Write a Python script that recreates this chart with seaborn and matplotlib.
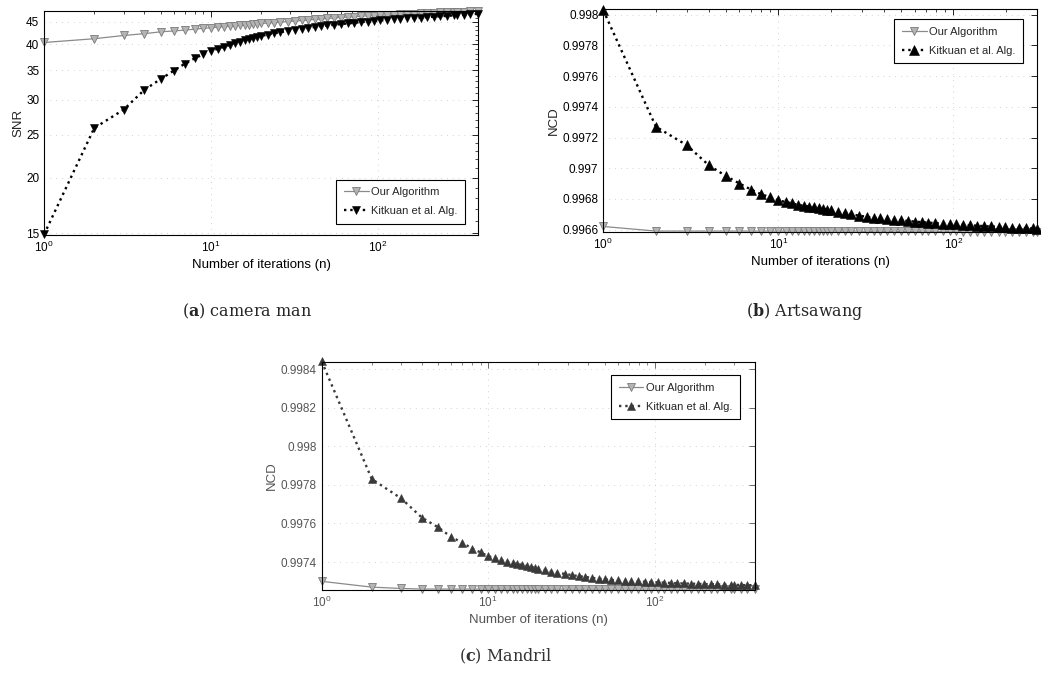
import numpy as np
import pandas as pd
import matplotlib
matplotlib.use("Agg")
import matplotlib.pyplot as plt
import seaborn as sns
from matplotlib.ticker import FixedLocator, FuncFormatter, NullFormatter, LogLocator

n_iter = [1, 2, 3, 4, 5, 6, 7, 8, 9, 10, 11, 12, 13, 14, 15, 16, 17, 18, 19, 20,
          22, 24, 26, 29, 32, 35, 38, 42, 46, 50, 55, 60, 66, 72, 79, 87, 95, 104,
          114, 125, 137, 150, 165, 181, 198, 217, 238, 261, 286, 300, 330, 360, 400]

# (a) camera man - SNR
snr_ours = [40.4, 41.2, 41.9, 42.3, 42.7, 42.9, 43.1, 43.3, 43.5, 43.6, 43.75, 43.9, 44.0,
            44.1, 44.2, 44.3, 44.35, 44.45, 44.5, 44.6, 44.7, 44.8, 44.9, 45.05, 45.15,
            45.3, 45.4, 45.55, 45.65, 45.8, 45.9, 46.0, 46.1, 46.2, 46.3, 46.4, 46.45,
            46.55, 46.6, 46.7, 46.8, 46.85, 46.95, 47.0, 47.1, 47.15, 47.25, 47.3, 47.35,
            47.4, 47.45, 47.5, 47.6]
snr_kit = [14.9, 25.9, 28.5, 31.6, 33.4, 34.9, 36.2, 37.2, 38.0, 38.7, 39.1, 39.5, 39.9,
           40.3, 40.6, 40.9, 41.15, 41.4, 41.6, 41.8, 42.1, 42.4, 42.6, 42.9, 43.15, 43.4,
           43.6, 43.8, 44.0, 44.15, 44.3, 44.45, 44.6, 44.75, 44.9, 45.05, 45.2, 45.3,
           45.45, 45.55, 45.7, 45.8, 45.9, 46.0, 46.1, 46.2, 46.3, 46.4, 46.5, 46.55,
           46.65, 46.75, 46.9]

# (b) Artsawang - NCD (first 50 iteration points, up to n=300)
ncd_b_ours = [0.99662, 0.99659, 0.99659, 0.99659, 0.99659, 0.99659, 0.99659, 0.99659,
              0.99659, 0.99659, 0.99659, 0.99659, 0.99659, 0.99659, 0.99659, 0.99659,
              0.99659, 0.99659, 0.99659, 0.99659, 0.99659, 0.99659, 0.99659, 0.99659,
              0.996588, 0.996588, 0.996588, 0.996588, 0.996588, 0.996588, 0.996588,
              0.996588, 0.996588, 0.996588, 0.996588, 0.996588, 0.996588, 0.996588,
              0.996586, 0.996586, 0.996586, 0.996586, 0.996586, 0.996586, 0.996586,
              0.996586, 0.996586, 0.996586, 0.996586, 0.996586]
ncd_b_kit = [0.99803, 0.99727, 0.99715, 0.99702, 0.99695, 0.99690, 0.99686, 0.99683,
             0.99681, 0.99679, 0.99678, 0.99677, 0.99676, 0.996755, 0.99675, 0.996745,
             0.99674, 0.996735, 0.99673, 0.996725, 0.996715, 0.996705, 0.9967, 0.99669,
             0.996683, 0.996677, 0.996672, 0.996667, 0.996663, 0.99666, 0.996656,
             0.996652, 0.996648, 0.996645, 0.996642, 0.996639, 0.996636, 0.996633,
             0.99663, 0.996627, 0.996625, 0.996622, 0.99662, 0.996618, 0.996615,
             0.996613, 0.996611, 0.996609, 0.996607, 0.996606]

# (c) Mandril - NCD
ncd_c_ours = [0.99730, 0.99727, 0.997263, 0.99726, 0.99726, 0.99726, 0.99726, 0.99726,
              0.99726, 0.99726, 0.99726, 0.99726, 0.99726, 0.99726, 0.99726, 0.99726,
              0.99726, 0.99726, 0.99726, 0.99726, 0.99726, 0.99726, 0.99726, 0.99726,
              0.99726, 0.99726, 0.99726, 0.99726, 0.99726, 0.99726, 0.99726, 0.99726,
              0.99726, 0.99726, 0.99726, 0.99726, 0.99726, 0.99726, 0.99726, 0.99726,
              0.99726, 0.99726, 0.99726, 0.99726, 0.99726, 0.99726, 0.99726, 0.99726,
              0.99726, 0.99726, 0.99726, 0.99726, 0.99726]
ncd_c_kit = [0.99844, 0.99783, 0.99773, 0.99763, 0.99758, 0.99753, 0.99750, 0.99747,
             0.99745, 0.99743, 0.99742, 0.99741, 0.997402, 0.997395, 0.99739, 0.997385,
             0.99738, 0.997375, 0.99737, 0.997365, 0.997358, 0.99735, 0.997345, 0.997338,
             0.997332, 0.997327, 0.997323, 0.997318, 0.997314, 0.99731, 0.997307,
             0.997305, 0.997303, 0.997301, 0.9973, 0.997298, 0.997296, 0.997295,
             0.997293, 0.997292, 0.99729, 0.997289, 0.997288, 0.997287, 0.997286,
             0.997285, 0.997284, 0.997283, 0.997282, 0.997282, 0.997281, 0.99728, 0.99728]

labels = ["Our Algorithm", "Kitkuan et al. Alg."]

sns.set_style("white")
plt.rcParams["font.family"] = ["Liberation Sans", "DejaVu Sans"]
plt.rcParams["mathtext.fontset"] = "dejavuserif"

fig = plt.figure(figsize=(10.41, 6.75), dpi=100)
ax_a = fig.add_axes([0.0423, 0.6519, 0.4169, 0.3319])
ax_b = fig.add_axes([0.5795, 0.6563, 0.4166, 0.3304])
ax_c = fig.add_axes([0.3090, 0.1259, 0.4162, 0.3382])


def draw(ax, n, ours, kit, kit_marker, kit_ms, kit_color, txt_color):
    df = pd.DataFrame({"n": n, "ours": ours, "kit": kit})
    sns.lineplot(data=df, x="n", y="ours", ax=ax, estimator=None, color="#8a8a8a",
                 lw=0.9, marker="v", markersize=5.4, markerfacecolor="#b4b4b4",
                 markeredgecolor="#7a7a7a", markeredgewidth=0.6, label=labels[0],
                 clip_on=False, zorder=3)
    sns.lineplot(data=df, x="n", y="kit", ax=ax, estimator=None, color=kit_color,
                 lw=1.7, linestyle=":", marker=kit_marker, markersize=kit_ms,
                 markerfacecolor=kit_color, markeredgecolor=kit_color,
                 markeredgewidth=0.4, label=labels[1], clip_on=False, zorder=4)
    ax.set_xscale("log")
    ax.xaxis.set_major_locator(LogLocator(base=10))
    ax.xaxis.set_minor_locator(LogLocator(base=10, subs=np.arange(2, 10)))
    ax.xaxis.set_minor_formatter(NullFormatter())
    ax.set_xlim(n[0], n[-1])
    ax.grid(True, which="major", ls=(0, (1, 6)), color="#c4c4c4", lw=0.6)
    ax.tick_params(which="both", direction="in", top=True, right=True,
                   labelsize=8.5, colors=txt_color)
    ax.tick_params(which="major", length=4, width=0.6)
    ax.tick_params(which="minor", length=2, width=0.5)
    for s in ax.spines.values():
        s.set_visible(True)
        s.set_color("black")
        s.set_linewidth(0.8)
        s.set_zorder(5)
    ax.set_xlabel("Number of iterations (n)", fontsize=9.5, color=txt_color, labelpad=3)


def add_legend(ax, loc, anchor):
    leg = ax.legend(loc=loc, bbox_to_anchor=anchor, fancybox=False, edgecolor="black",
                    framealpha=1, fontsize=8, borderpad=0.7, labelspacing=0.8,
                    handlelength=2.2, handletextpad=0.2, borderaxespad=0)
    leg.get_frame().set_linewidth(0.8)
    leg.set_zorder(6)


# (a)
draw(ax_a, n_iter, snr_ours, snr_kit, "v", 5.6, "black", "black")
ax_a.set_yscale("log")
ax_a.set_ylim(14.86, 47.6)
ax_a.yaxis.set_major_locator(FixedLocator([15, 20, 25, 30, 35, 40, 45]))
ax_a.yaxis.set_major_formatter(FuncFormatter(lambda v, p: f"{v:g}"))
ax_a.yaxis.set_minor_locator(FixedLocator([v for v in range(16, 48) if v % 5]))
ax_a.yaxis.set_minor_formatter(NullFormatter())
ax_a.set_ylabel("SNR", fontsize=9.5, labelpad=1)
add_legend(ax_a, "lower right", (0.97, 0.049))

# (b)
nb = len(ncd_b_kit)
draw(ax_b, n_iter[:nb], ncd_b_ours, ncd_b_kit, "^", 7.0, "black", "black")
ax_b.set_ylim(0.996584, 0.998038)
ax_b.yaxis.set_major_locator(FixedLocator(np.round(np.arange(0.9966, 0.99801, 0.0002), 4)))
ax_b.yaxis.set_major_formatter(FuncFormatter(lambda v, p: f"{round(v, 4):g}"))
ax_b.set_ylabel("NCD", fontsize=9.5, labelpad=2)
add_legend(ax_b, "upper right", (0.968, 0.955))

# (c)
draw(ax_c, n_iter, ncd_c_ours, ncd_c_kit, "^", 6.4, "#3a3a3a", "#555555")
ax_c.set_ylim(0.997255, 0.998438)
ax_c.yaxis.set_major_locator(FixedLocator(np.round(np.arange(0.9974, 0.99841, 0.0002), 4)))
ax_c.yaxis.set_major_formatter(FuncFormatter(lambda v, p: f"{round(v, 4):g}"))
ax_c.set_ylabel("NCD", fontsize=9.5, labelpad=2, color="#555555")
add_legend(ax_c, "upper right", (0.965, 0.942))

# captions
cap = dict(fontsize=11.5, family="DejaVu Serif", ha="center", va="center")
fig.text(0.237, 0.539, r"($\mathbf{a}$) camera man", **cap)
fig.text(0.773, 0.539, r"($\mathbf{b}$) Artsawang", **cap)
fig.text(0.486, 0.027, r"($\mathbf{c}$) Mandril", color="#333333", **cap)

fig.savefig("out.png", dpi=100)
